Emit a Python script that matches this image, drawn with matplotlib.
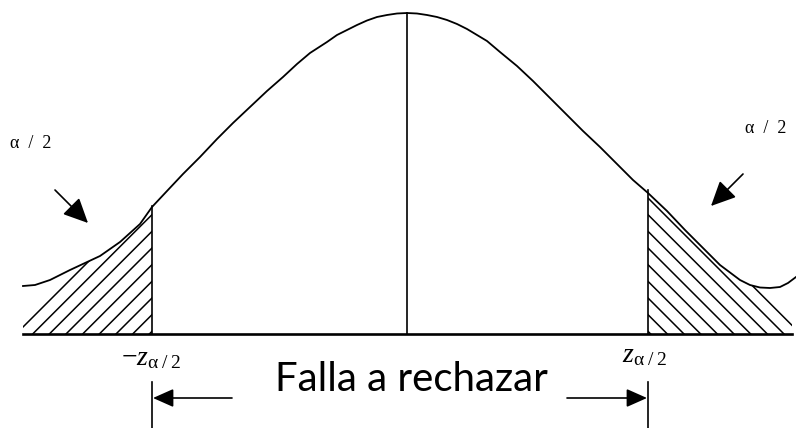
import matplotlib
matplotlib.use("Agg")
import matplotlib.pyplot as plt

# curve, in pixel coordinates (x right, y down)
curve_x = [23, 35, 50, 70, 85, 100, 120, 140, 152, 167, 183, 200, 217, 233, 250, 267, 283,
           297, 310, 327, 337, 347, 357, 367, 377, 387, 397, 407,
           417, 427, 437, 447, 457, 467, 477, 487, 500, 517, 533, 550, 567, 583, 600, 617,
           633, 648, 667, 685, 700, 720, 740, 750, 760, 770, 780, 788, 796]
curve_y = [286, 285, 280, 270, 263, 256, 242, 224, 207, 191, 174, 157, 139, 123, 107, 91, 77,
           64, 53, 42, 35, 30, 25, 20.5, 17, 15, 13.5, 13,
           13.5, 15, 17, 20, 24, 29, 35, 41, 52, 66, 81, 98, 115, 131, 147, 164,
           180, 193, 211, 230, 245, 265, 280, 285, 287.5, 288, 287, 283, 277]

# upper edge of the hatched tails
left_hatch_x = [23, 68, 85, 100, 120, 140, 152]
left_hatch_y = [318, 271, 263, 256, 242, 224, 207]
right_hatch_x = [648, 667, 685, 700, 720, 740, 750, 762, 792]
right_hatch_y = [193, 211, 230, 245, 265, 280, 285, 287.5, 318]

base_y = 334
base_x = [23, 792]
center_x, peak_y = 407, 13
z_left, z_left_top = 152, 206
z_right, z_right_top = 648, 190

fig = plt.figure(figsize=(7.96, 4.28), dpi=100)
ax = fig.add_axes([0, 0, 1, 1])
ax.set_xlim(0, 796)
ax.set_ylim(428, 0)
ax.axis("off")

plt.rcParams["hatch.linewidth"] = 1.1
ax.fill_between(left_hatch_x, left_hatch_y, base_y, facecolor="none",
                edgecolor="black", hatch="//", linewidth=0)
ax.fill_between(right_hatch_x + [792], right_hatch_y + [base_y], base_y, facecolor="none",
                edgecolor="black", hatch="\\\\", linewidth=0)

ax.plot(curve_x, curve_y, color="black", lw=1.3, solid_joinstyle="round")
ax.plot(base_x, [base_y, base_y], color="black", lw=1.9)
ax.plot([center_x, center_x], [peak_y, base_y], color="black", lw=1.2)
ax.plot([z_left, z_left], [z_left_top, base_y], color="black", lw=1.2)
ax.plot([z_right, z_right], [z_right_top, base_y], color="black", lw=1.2)

# lower markers and arrows
ax.plot([z_left, z_left], [382, 428], color="black", lw=1.2)
ax.plot([z_right, z_right], [382, 428], color="black", lw=1.2)
head = dict(arrowstyle="-|>,head_length=0.9,head_width=0.4", color="black",
            lw=1.2, mutation_scale=14, shrinkA=0, shrinkB=0)
ax.annotate("", xy=(z_left + 1, 398), xytext=(232, 398), arrowprops=head)
ax.annotate("", xy=(z_right - 1, 398), xytext=(567, 398), arrowprops=head)

big_head = dict(head, arrowstyle="-|>,head_length=0.95,head_width=0.45", mutation_scale=16)
ax.annotate("", xy=(88, 223), xytext=(55, 190), arrowprops=big_head)
ax.annotate("", xy=(711, 206), xytext=(743, 174), arrowprops=big_head)

serif = ["Liberation Serif", "DejaVu Serif"]
ax.text(31, 143, "α  /  2", fontsize=13, family=serif, ha="center", va="center")
ax.text(766, 128, "α  /  2", fontsize=13, family=serif, ha="center", va="center")

plt.rcParams["mathtext.fontset"] = "custom"
plt.rcParams["mathtext.rm"] = "Liberation Serif"
plt.rcParams["mathtext.it"] = "Liberation Serif:italic"
ax.text(151, 365, r"$-z_{\mathrm{\alpha}\;/\;2}$", fontsize=20, ha="center", va="baseline")
ax.text(645, 362, r"$z_{\mathrm{\alpha}\;/\;2}$", fontsize=20, ha="center", va="baseline")

ax.text(411, 391, "Falla a rechazar", fontsize=29,
        family=["Lato", "Liberation Sans", "DejaVu Sans"],
        ha="center", va="baseline")

fig.savefig("out.png", dpi=100)
